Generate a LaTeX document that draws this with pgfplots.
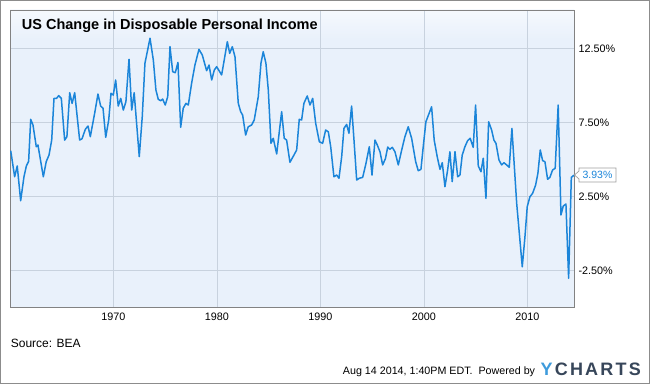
\documentclass[border=0pt]{standalone}
\usepackage{fontspec}
\setmainfont{Liberation Sans}
\usepackage{pgfplots}
\pgfplotsset{compat=1.18}
\definecolor{bgblue}{RGB}{233,241,251}
\definecolor{gridc}{RGB}{200,210,222}
\definecolor{axisc}{RGB}{130,130,130}
\definecolor{linec}{RGB}{27,133,217}
\definecolor{framegray}{RGB}{140,140,140}
\definecolor{logoY}{RGB}{62,155,220}
\definecolor{logoC}{RGB}{55,70,90}
\definecolor{boxgray}{RGB}{160,160,160}
\begin{document}
\begin{tikzpicture}[x=1pt,y=1pt]
\path[use as bounding box] (0,0) rectangle (650,384);
\fill[white] (0,0) rectangle (650,384);
\draw[framegray, line width=1.2pt] (0.6,0.6) rectangle (649.4,383.4);
\fill[bgblue] (10,77) rectangle (574,374);
\shade[top color=white!55!bgblue, bottom color=bgblue] (10,345) rectangle (574,374);
\begin{axis}[at={(10pt,77pt)}, anchor=south west,
  width=564pt, height=297pt, scale only axis,
  xmin=1960, xmax=2014.5, ymin=-4.98, ymax=15.09,
  xtick={1970,1980,1990,2000,2010},
  xticklabels={1970,1980,1990,2000,2010},
  ytick={-2.5,2.5,7.5,12.5},
  yticklabels={-2.50\%,2.50\%,7.50\%,12.50\%},
  yticklabel pos=right,
  grid=major, major grid style={gridc, line width=0.7pt},
  tick style={draw=none},
  axis line style={axisc, line width=0.8pt},
  ticklabel style={font=\fontsize{10.8}{12}\selectfont, text=black},
  xticklabel style={yshift=-2pt},
  yticklabel style={xshift=1pt},
  clip=true]
\addplot[linec, line width=1.5pt, line join=round, mark=none] coordinates {
(1960.07,5.58) (1960.45,3.82) (1960.70,4.55) (1961.03,2.20) (1961.35,3.82)
(1961.58,4.55) (1961.80,4.86) (1962.00,7.70) (1962.22,7.32) (1962.54,5.85)
(1962.70,5.97) (1963.22,3.82) (1963.50,4.84) (1963.77,5.29) (1964.03,6.30)
(1964.25,9.12) (1964.50,9.12) (1964.70,9.30) (1964.96,9.12) (1965.28,6.30)
(1965.50,6.53) (1965.77,9.50) (1966.00,8.78) (1966.25,9.50) (1966.73,6.30)
(1966.96,6.39) (1967.28,7.03) (1967.54,7.25) (1967.76,6.53) (1968.18,8.11)
(1968.50,9.41) (1968.76,8.60) (1968.99,8.45) (1969.25,6.49) (1969.54,7.66)
(1969.76,9.46) (1969.98,9.34) (1970.21,10.36) (1970.46,8.60) (1970.70,9.12)
(1970.95,8.33) (1971.20,8.89) (1971.50,11.76) (1971.76,8.33) (1972.00,9.50)
(1972.49,5.18) (1972.78,7.88) (1973.04,11.49) (1973.53,13.18) (1973.85,11.71)
(1974.10,9.68) (1974.33,9.05) (1974.56,8.96) (1974.75,9.07) (1975.00,8.67)
(1975.24,9.23) (1975.46,12.61) (1975.72,10.92) (1975.97,10.85) (1976.23,11.55)
(1976.49,7.16) (1976.74,8.45) (1977.00,8.78) (1977.23,8.67) (1977.55,10.14)
(1977.87,11.37) (1978.26,12.43) (1978.58,12.05) (1979.00,10.99) (1979.23,11.37)
(1979.49,10.36) (1979.74,11.03) (1979.97,11.26) (1980.45,10.70) (1980.70,11.71)
(1981.00,12.95) (1981.23,12.16) (1981.48,12.61) (1981.74,11.93) (1982.06,8.78)
(1982.29,8.22) (1982.48,7.99) (1982.77,6.64) (1983.02,7.20) (1983.35,7.32)
(1983.60,7.66) (1983.99,9.23) (1984.25,11.49) (1984.47,12.27) (1984.73,11.49)
(1984.96,9.68) (1985.22,6.08) (1985.44,6.42) (1985.77,5.36) (1986.25,8.22)
(1986.50,6.42) (1986.73,6.30) (1987.05,4.80) (1987.37,5.20) (1987.70,5.63)
(1987.95,7.70) (1988.18,7.66) (1988.40,8.78) (1988.72,9.28) (1988.99,8.67)
(1989.25,9.12) (1989.54,7.43) (1989.89,6.19) (1990.21,6.08) (1990.50,6.98)
(1990.76,6.86) (1990.99,5.85) (1991.30,3.82) (1991.57,3.94) (1991.79,3.72)
(1992.05,5.18) (1992.27,7.09) (1992.53,7.36) (1992.75,6.76) (1993.01,8.60)
(1993.24,6.30) (1993.50,3.60) (1993.75,3.72) (1994.08,3.78) (1994.40,4.73)
(1994.72,5.85) (1994.98,3.94) (1995.27,6.30) (1995.49,5.97) (1995.75,5.51)
(1996.01,4.62) (1996.28,5.05) (1996.50,5.83) (1996.71,5.68) (1996.94,5.81)
(1997.20,5.51) (1997.52,4.62) (1997.85,5.63) (1998.16,6.53) (1998.48,7.20)
(1998.81,6.42) (1999.20,4.84) (1999.45,4.23) (1999.71,4.32) (1999.93,5.85)
(2000.19,7.54) (2000.74,8.55) (2000.99,6.30) (2001.28,5.18) (2001.55,4.32)
(2001.77,4.77) (2002.03,3.15) (2002.29,4.28) (2002.51,5.51) (2002.73,3.49)
(2003.00,5.51) (2003.26,3.82) (2003.48,3.94) (2003.70,5.29) (2003.96,5.85)
(2004.22,6.26) (2004.47,6.42) (2004.76,5.81) (2004.99,8.67) (2005.25,4.55)
(2005.51,4.16) (2005.73,5.07) (2005.99,2.36) (2006.25,7.54) (2006.54,6.98)
(2006.76,6.30) (2006.96,6.08) (2007.25,4.95) (2007.51,4.62) (2007.73,4.77)
(2007.99,4.62) (2008.24,4.46) (2008.50,7.09) (2008.96,2.03) (2009.50,-2.26)
(2009.76,-0.23) (2009.98,1.80) (2010.24,2.47) (2010.50,2.70) (2010.79,3.26)
(2011.01,4.05) (2011.24,5.63) (2011.47,4.91) (2011.69,4.84) (2011.95,3.65)
(2012.17,3.78) (2012.43,4.28) (2012.68,4.39) (2012.97,8.67) (2013.24,1.24)
(2013.46,1.84) (2013.72,1.98) (2013.98,-3.04) (2014.24,3.78) (2014.50,3.93)
};
\end{axis}
\node[anchor=base west, inner sep=0, font=\bfseries\fontsize{14.5}{17}\selectfont] at (21.7,354.7) {US Change in Disposable Personal Income};
\draw[boxgray, fill=white, line width=0.7pt] (574.5,209) -- (579,213) -- (579,216) -- (616,216) -- (616,202) -- (579,202) -- (579,205) -- cycle;
\node[anchor=center, inner sep=0, text=linec, font=\fontsize{10.5}{12}\selectfont] at (597.5,209) {3.93\%};
\node[anchor=base west, inner sep=0, font=\fontsize{12}{14}\selectfont] at (10.7,36.7) {Source: BEA};
\node[anchor=base east, inner sep=0, font=\fontsize{10.7}{12}\selectfont] at (535.3,9.5) {Aug 14 2014, 1:40PM EDT.\ \ Powered by};
\node[anchor=base east, inner sep=0, font=\bfseries\fontsize{18}{20}\selectfont] at (641,8.5) {\textcolor{logoY}{Y}\kern2.2pt\textcolor{logoC}{C\kern2.2pt H\kern2.2pt A\kern2.2pt R\kern2.2pt T\kern2.2pt S}};
\end{tikzpicture}
\end{document}
